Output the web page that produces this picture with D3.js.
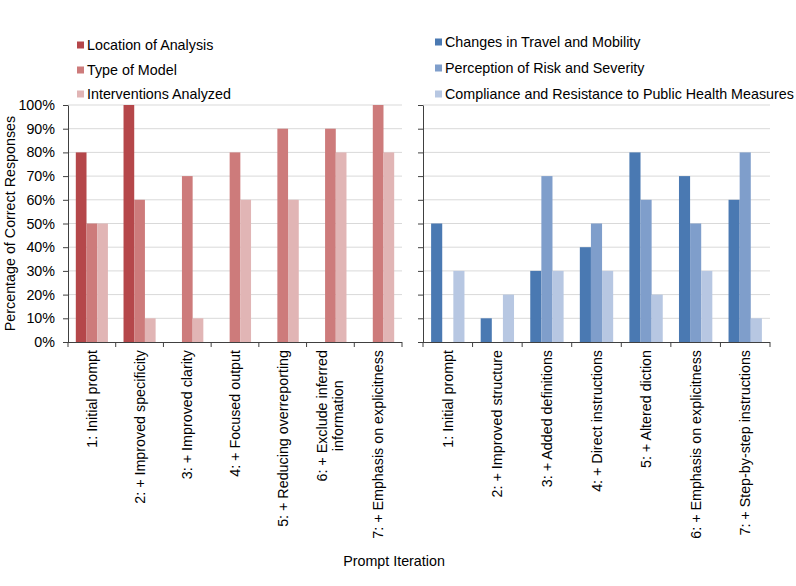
<!DOCTYPE html>
<html>
<head>
<meta charset="utf-8">
<script src="https://cdn.jsdelivr.net/npm/d3@7"></script>
<style>
  body { margin: 0; background: #fff; }
  text { font-family: "Liberation Sans", Arial, sans-serif; font-size: 14.3px; fill: #000; }
</style>
</head>
<body>
<div></div>
<script>
// datos de la figura
var leftCats = ['1: Initial prompt', '2: + Improved specificity', '3: + Improved clarity', '4: + Focused output',
  '5: + Reducing overreporting', '6: + Exclude inferred|information', '7: + Emphasis on explicitness']
var rightCats = ['1: Initial prompt', '2: + Improved structure', '3: + Added definitions', '4: + Direct instructions',
  '5: + Altered diction', '6: + Emphasis on explicitness', '7: + Step-by-step instructions']

var leftSeries = ['Location of Analysis', 'Type of Model', 'Interventions Analyzed']
var locationVals = [80, 100, 0, 0, 0, 0, 0]
var modelVals = [50, 60, 70, 80, 90, 90, 100]
var interventionVals = [50, 10, 10, 60, 60, 80, 80]

var rightSeries = ['Changes in Travel and Mobility', 'Perception of Risk and Severity', 'Compliance and Resistance to Public Health Measures']
var travelVals = [50, 10, 30, 40, 80, 70, 60]
var riskVals = [0, 0, 70, 50, 60, 50, 80]
var complianceVals = [30, 20, 30, 30, 20, 30, 10]

var yTicks = [0, 10, 20, 30, 40, 50, 60, 70, 80, 90, 100]

var leftColors = ['#B5474A', '#CD7B7B', '#E1B5B5']
var rightColors = ['#4A79B2', '#7F9ECB', '#B7C7E2']

var width = 796
var height = 586
var top_ = 105
var bottom = 342

var svg = d3.select('div')
  .append('svg')
  .attr('width', width)
  .attr('height', height);

var scaleY = d3.scaleLinear().domain([0, 100]).range([bottom, top_]);

function panel(x0, x1, cats, series, values, colors, showLabels, legendX, legendYs) {
  var g = svg.append('g');
  var scaleX = d3.scaleBand().domain(d3.range(cats.length)).range([x0, x1]);
  var inner = d3.scaleBand().domain(d3.range(series.length))
    .range([0, scaleX.bandwidth()]).paddingOuter(0.73);

  // lineas de rejilla
  g.append('g').selectAll('line')
    .data(yTicks.slice(1))
    .enter().append('line')
    .attr('x1', x0).attr('x2', x1)
    .attr('y1', (d) => scaleY(d)).attr('y2', (d) => scaleY(d))
    .attr('stroke', '#D9D9D9').attr('stroke-width', 1);

  // barras
  series.forEach((s, si) => {
    g.append('g').selectAll('rect')
      .data(values[si])
      .enter().append('rect')
      .attr('x', (d, i) => scaleX(i) + inner(si))
      .attr('y', (d) => scaleY(d))
      .attr('width', inner.bandwidth())
      .attr('height', (d) => bottom - scaleY(d))
      .attr('fill', colors[si]);
  });

  // eje Y
  var yaxis = d3.axisLeft(scaleY).tickValues(yTicks).tickSize(5).tickSizeOuter(0)
    .tickFormat((d) => showLabels ? d + '%' : '');
  var ya = g.append('g').attr('transform', 'translate(' + x0 + ',0)').call(yaxis);
  ya.select('.domain').attr('stroke', '#404040');
  ya.selectAll('line').attr('stroke', '#404040');
  ya.selectAll('text').attr('x', -13).style('font-size', '14.3px').attr('fill', '#000');

  // eje X con ticks en los limites
  g.append('line').attr('x1', x0).attr('x2', x1).attr('y1', bottom + 0.5).attr('y2', bottom + 0.5)
    .attr('stroke', '#404040');
  g.append('g').selectAll('line')
    .data(d3.range(cats.length + 1))
    .enter().append('line')
    .attr('x1', (d) => x0 + d * scaleX.step()).attr('x2', (d) => x0 + d * scaleX.step())
    .attr('y1', bottom).attr('y2', bottom + 5)
    .attr('stroke', '#404040');

  // etiquetas de categoria rotadas
  cats.forEach((c, i) => {
    var lines = c.split('|');
    var cx = scaleX(i) + scaleX.bandwidth() / 2;
    var t = g.append('text')
      .attr('transform', 'translate(' + cx + ',350) rotate(-90)');
    var first = t.append('tspan')
      .attr('x', 0)
      .attr('y', lines.length > 1 ? -8 : 0)
      .attr('dy', '0.35em')
      .attr('text-anchor', 'end')
      .text(lines[0]);
    if (lines.length > 1) {
      var len = first.node().getComputedTextLength();
      t.append('tspan')
        .attr('x', -len / 2)
        .attr('y', 8)
        .attr('dy', '0.35em')
        .attr('text-anchor', 'middle')
        .text(lines[1]);
    }
  });

  // leyenda
  series.forEach((s, si) => {
    g.append('rect')
      .attr('x', legendX).attr('y', legendYs[si] - 3.5)
      .attr('width', 7).attr('height', 7)
      .attr('fill', colors[si]);
    g.append('text')
      .attr('x', legendX + 10).attr('y', legendYs[si])
      .attr('dy', '0.35em')
      .text(s);
  });
}

panel(68, 402, leftCats, leftSeries, [locationVals, modelVals, interventionVals], leftColors, true, 77, [45, 70, 94]);
panel(423, 770, rightCats, rightSeries, [travelVals, riskVals, complianceVals], rightColors, false, 435, [42, 68, 94]);

// titulos de ejes
svg.append('text')
  .attr('transform', 'translate(10,' + ((top_ + bottom) / 2) + ') rotate(-90)')
  .attr('text-anchor', 'middle')
  .attr('dy', '0.35em')
  .text('Percentage of Correct Responses');

svg.append('text')
  .attr('x', 394).attr('y', 561)
  .attr('text-anchor', 'middle')
  .attr('dy', '0.35em')
  .text('Prompt Iteration');
</script>
</body>
</html>
